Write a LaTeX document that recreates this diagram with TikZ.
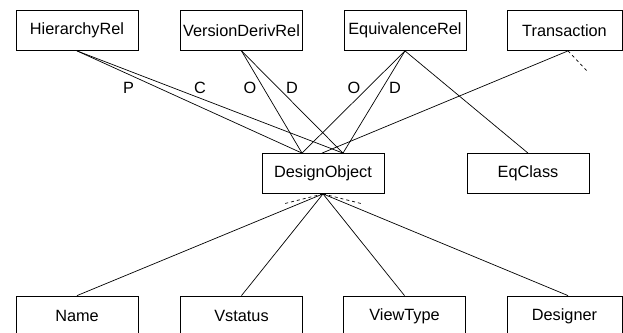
\documentclass[tikz,border=0pt]{standalone}
\usepackage{fontspec}
\setmainfont{Liberation Sans}
\begin{document}
\begin{tikzpicture}[x=1bp,y=-1bp,
  every node/.style={font=\fontsize{16.3bp}{19bp}\selectfont},
  entity/.style={draw,line width=0.8bp,minimum width=122bp,minimum height=40bp,inner sep=0pt},
  link/.style={line width=0.7bp},
  hint/.style={line width=0.7bp,dash pattern=on 3bp off 3bp},
  role/.style={inner sep=0pt}]
\useasboundingbox (0,0) rectangle (623,332);

% top row of relationship types
\node[entity] (hier)  at (77,30.5)    {HierarchyRel};
\node[entity] (vdr)   at (241.5,30.5) {VersionDerivRel};
\node[entity] (eqr)   at (405,30.5)   {EquivalenceRel};
\node[entity,minimum width=115bp] (trans) at (564.5,30.5) {Transaction};

% central object and its equivalence class
\node[entity] (do)  at (323,173.5) {DesignObject};
\node[entity] (eqc) at (528,173.5) {EqClass};

% attributes along the bottom
\node[entity] (name)   at (77,316)    {Name};
\node[entity] (vst)    at (241.5,316) {Vstatus};
\node[entity] (vtype)  at (404.5,316) {ViewType};
\node[entity,minimum width=115bp] (dsg) at (564.5,316) {Designer};

% attachment points on the central object
\coordinate (doL) at ([xshift=-21bp]do.north);
\coordinate (doR) at ([xshift=20bp]do.north);
\coordinate (doM) at ([xshift=-1bp]do.north);
\coordinate (trS) at ([xshift=3.5bp]trans.south);
\coordinate (dgN) at ([xshift=3.5bp]dsg.north);
\coordinate (trE) at (588,72);
\coordinate (hintL) at (283,204);
\coordinate (hintR) at (363,204);

% relationship edges
\draw[link] (hier.south) -- (doL);
\draw[link] (hier.south) -- (doR);
\draw[link] (vdr.south) -- (doL);
\draw[link] (vdr.south) -- (doR);
\draw[link] (eqr.south) -- (doL);
\draw[link] (eqr.south) -- (doR);
\draw[link] (eqr.south) -- (eqc.north);
\draw[link] (trS) -- (doM);
\draw[hint] (trS) -- (trE);

% attribute edges
\draw[link] (do.south) -- (name.north);
\draw[link] (do.south) -- (vst.north);
\draw[link] (do.south) -- (vtype.north);
\draw[link] (do.south) -- (dgN);
\draw[hint] (do.south) -- (hintL);
\draw[hint] (do.south) -- (hintR);

% role labels
\node[role] (lp)  at (128.5,87.5) {P};
\node[role] (lc)  at (200,87.5)   {C};
\node[role] (lo1) at (250,87.5)   {O};
\node[role] (ld1) at (292,87.5)   {D};
\node[role] (lo2) at (354,87.5)   {O};
\node[role] (ld2) at (395,87.5)   {D};
\end{tikzpicture}
\end{document}
